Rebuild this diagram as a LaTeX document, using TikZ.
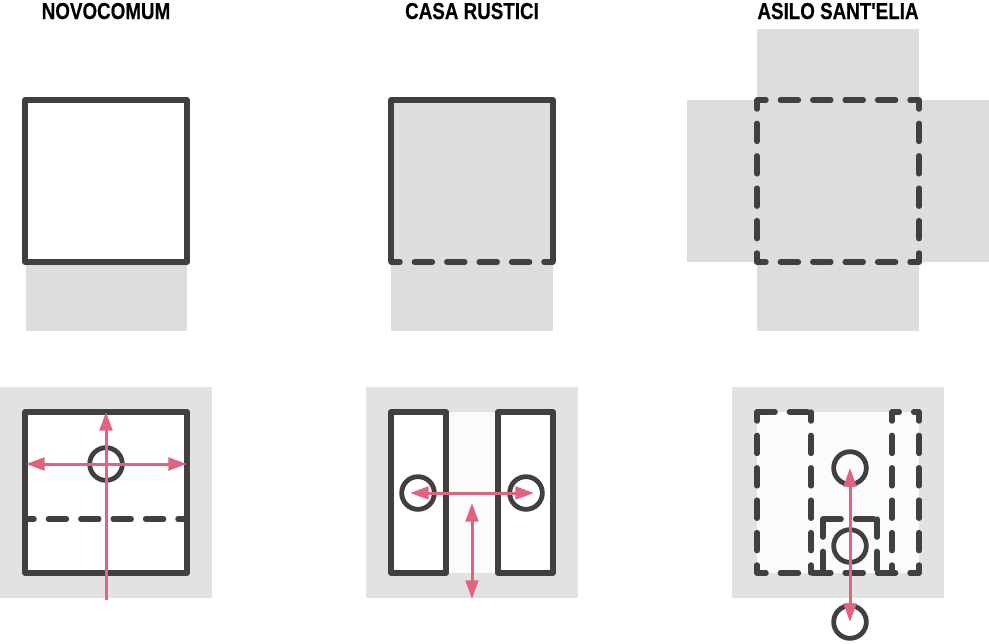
\documentclass[tikz,border=0pt]{standalone}
\usepackage{fontspec}
\newfontfamily\titlefont[FakeStretch=0.815,BoldFeatures={FakeBold=0.3}]{Liberation Sans}
\usetikzlibrary{arrows.meta}
\definecolor{upgray}{HTML}{DDDDDD}
\definecolor{lowgray}{HTML}{E2E2E2}
\definecolor{inner}{HTML}{FBFBFB}
\definecolor{ink}{HTML}{404040}
\definecolor{rose}{HTML}{E0637F}
\tikzset{
  wall/.style={draw=ink,line width=4pt,line join=round},
  centred/.style={wall,line cap=round,dash pattern=on 13.6pt off 10.7pt,dash phase=6.8pt},
  fromstart/.style={wall,line cap=round,dash pattern=on 13.6pt off 10.7pt},
  well/.style={circle,draw=ink,line width=3.6pt,minimum size=24.5pt,inner sep=0pt,outer sep=0pt},
  title/.style={font=\titlefont\bfseries\fontsize{17.3pt}{20pt}\selectfont,anchor=base,inner sep=0pt},
  flow/.style={draw=rose,line width=2.25pt},
  both/.style={flow,{Triangle[length=14pt,width=9.5pt]}-{Triangle[length=14pt,width=9.5pt]}},
  up/.style={flow,-{Triangle[length=14pt,width=9.5pt]}}
}
\begin{document}
\begin{tikzpicture}[x=0.75pt,y=-0.75pt]
\useasboundingbox (0,0) rectangle (989,643);
% titles
\node[title] (t1) at (106,19) {NOVOCOMUM};
\node[title] (t2) at (472,19) {CASA RUSTICI};
\node[title] (t3) at (838,19) {ASILO SANT'ELIA};
% upper row
\fill[upgray] (26,262) rectangle (187,331);
\draw[wall] (25,100) rectangle (187,262);
\fill[upgray] (391,100) rectangle (553,331);
\draw[wall] (391,262) -- (391,100) -- (553,100) -- (553,262);
\draw[centred] (391,262) -- (553,262);
\fill[upgray] (757,29) rectangle (919,331);
\fill[upgray] (687,100) rectangle (989,262);
\draw[centred] (757,100) -- (919,100) -- (919,262) -- (757,262) -- cycle;
% lower row, Novocomum
\fill[lowgray] (0,387) rectangle (212,598);
\fill[white] (25,412) rectangle (187,573);
\draw[wall] (25,412) rectangle (187,573);
\draw[centred] (25,519) -- (187,519);
\node[well] (w1) at (106,464) {};
\coordinate (a1) at (106,600);
\coordinate (a2) at (106,412);
\coordinate (a3) at (26,464);
\coordinate (a4) at (187,464);
\draw[up] (a1) -- (a2);
\draw[both] (a3) -- (a4);
% lower row, Casa Rustici
\fill[lowgray] (366,387) rectangle (578,598);
\fill[inner] (446,412) rectangle (498,573);
\draw[wall,fill=white] (391,412) rectangle (446,573);
\draw[wall,fill=white] (498,412) rectangle (553,573);
\node[well] (w2) at (418,493) {};
\node[well] (w3) at (526,493) {};
\coordinate (b1) at (410,493);
\coordinate (b2) at (534,493);
\coordinate (b3) at (472,503);
\coordinate (b4) at (472,599);
\draw[both] (b1) -- (b2);
\draw[both] (b3) -- (b4);
% lower row, Asilo Sant'Elia
\fill[lowgray] (732,387) rectangle (944,598);
\fill[inner] (757,412) rectangle (919,573);
\draw[fromstart] (757,412) -- (811,412);
\draw[centred] (757,412) -- (757,573);
\draw[centred] (811,412) -- (811,573);
\draw[centred] (757,573) -- (919,573);
\draw[wall,line cap=round,dash pattern=on 5.5pt off 10.7pt on 13.6pt off 10.7pt] (892,412) -- (919,412);
\draw[centred] (892,412) -- (892,573);
\draw[centred] (919,412) -- (919,573);
\draw[fromstart] (823,519) -- (877,519);
\draw[fromstart] (823,519) -- (823,573);
\draw[fromstart] (877,519) -- (877,573);
\node[well] (w4) at (850,468) {};
\node[well] (w5) at (850,546) {};
\node[well] (w6) at (850,622) {};
\draw[both] (w4.center) -- (w6.center);
\end{tikzpicture}
\end{document}
